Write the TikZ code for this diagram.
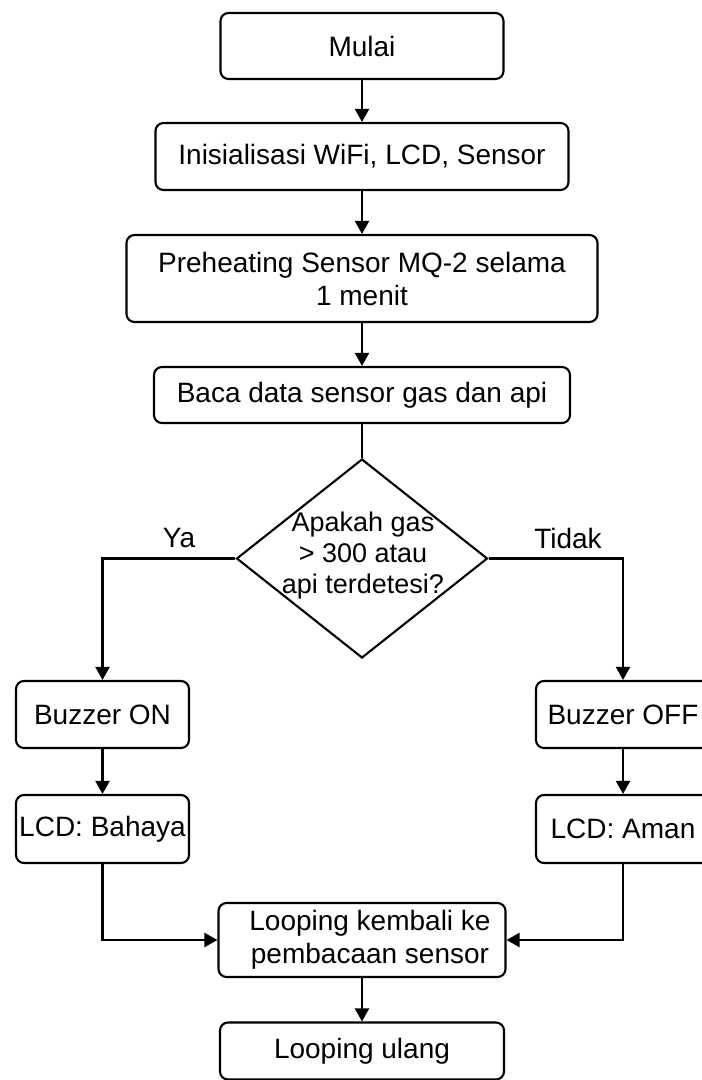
\documentclass[tikz,border=0pt]{standalone}
\usepackage{fontspec}
\setmainfont{Liberation Sans}
\usetikzlibrary{arrows.meta,shapes.geometric}
\begin{document}
\begin{tikzpicture}[x=1pt,y=-1pt,
  txt/.style={font=\fontsize{28}{33}\selectfont},
  box/.style={draw, line width=2.1pt, rounded corners=8pt, inner sep=0pt,
              align=center, txt},
  decision/.style={draw, diamond, line width=2.1pt, inner sep=0pt,
                   minimum width=251pt, minimum height=199pt},
  lbl/.style={txt, inner sep=0pt, align=center},
  link/.style={line width=2.1pt},
  flow/.style={link, -{Triangle[length=13pt,width=14pt]}}]
\fill[white] (0,0) rectangle (702,1080);
\useasboundingbox (0,0) rectangle (702,1080);
\clip (0,0) rectangle (702,1080);

% main column
\node[box, minimum width=283pt, minimum height=66pt] (start) at (362,46) {Mulai};
\node[box, minimum width=413pt, minimum height=67pt] (init) at (362,156.5)
  {Inisialisasi WiFi, LCD, Sensor};
\node[box, minimum width=471pt, minimum height=87pt] (heat) at (362,278.5)
  {Preheating Sensor MQ-2 selama\\1 menit};
\node[box, minimum width=416pt, minimum height=56pt] (read) at (362,395)
  {Baca data sensor gas dan api};

% decision
\node[decision] (check) at (362,558.5) {};
\node[lbl, font=\fontsize{27}{31}\selectfont] (checktext) at (363,556)
  {Apakah gas\\> 300 atau\\api terdetesi?};
\node[lbl] (yes) at (179,538) {Ya};
\node[lbl] (no) at (568,538) {Tidak};

% branches
\node[box, minimum width=173pt, minimum height=67pt] (buzon) at (102.5,714.5) {Buzzer ON};
\node[box, minimum width=173pt, minimum height=68pt] (lcdbad) at (102.5,829) {LCD: Bahaya};
\node[box, minimum width=174pt, minimum height=67pt] (buzoff) at (623,714.5) {Buzzer OFF};
\node[box, minimum width=174pt, minimum height=68pt] (lcdok) at (623,829) {LCD: Aman};

% end
\node[box, minimum width=287pt, minimum height=74pt] (loop) at (362,940)
  {\hspace*{16pt}Looping kembali ke\\\hspace*{16pt}pembacaan sensor};
\node[box, minimum width=284pt, minimum height=57pt] (again) at (362,1051) {Looping ulang};

% connectors
\draw[flow] (start) -- (init);
\draw[flow] (init) -- (heat);
\draw[flow] (heat) -- (read);
\draw[link] (read) -- (check);
\draw[flow] (check.west) -| (buzon.north);
\draw[flow] (check.east) -| (buzoff.north);
\draw[flow] (buzon) -- (lcdbad);
\draw[flow] (buzoff) -- (lcdok);
\draw[flow] (lcdbad.south) |- (loop.west);
\draw[flow] (lcdok.south) |- (loop.east);
\draw[flow] (loop) -- (again);
\end{tikzpicture}
\end{document}
